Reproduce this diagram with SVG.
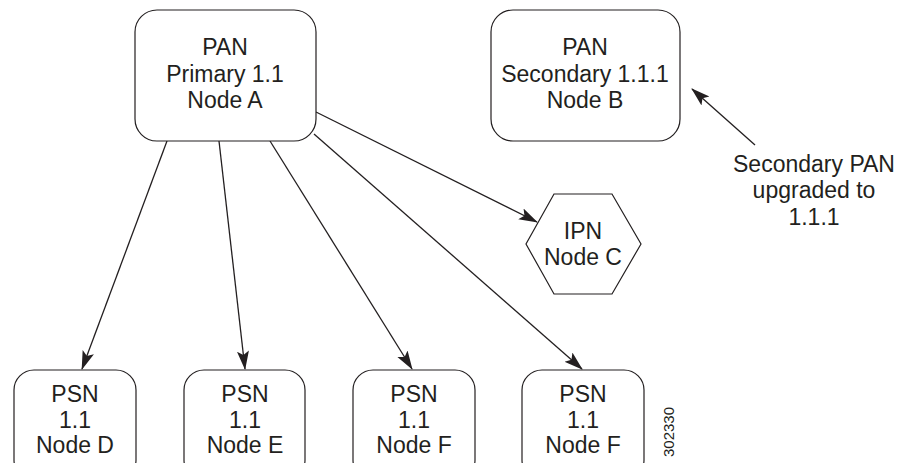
<svg xmlns="http://www.w3.org/2000/svg" width="900" height="463" viewBox="0 0 900 463">
<style>
.box{fill:#fff;stroke:#231f20;stroke-width:1.2}
.t{font-family:"Liberation Sans",Arial,sans-serif;font-size:23px;fill:#231f20;text-anchor:middle}
.edge{stroke:#231f20;stroke-width:1.3;fill:none;marker-end:url(#ah)}
</style>
<defs>
<marker id="ah" markerUnits="userSpaceOnUse" markerWidth="20" markerHeight="14" refX="18" refY="7" orient="auto" viewBox="0 0 20 14">
<path d="M0,1 L19,7 L0,13 L4,7 Z" fill="#231f20"/>
</marker>
</defs>
<rect width="900" height="463" fill="#fff"/>
<g id="connectors">
<line class="edge" x1="167" y1="141" x2="82" y2="369"/>
<line class="edge" x1="219" y1="141" x2="245" y2="369"/>
<line class="edge" x1="270" y1="141" x2="412" y2="369"/>
<line class="edge" x1="314" y1="134" x2="582" y2="369"/>
<line class="edge" x1="316" y1="112" x2="537" y2="222"/>
<line class="edge" x1="755" y1="145" x2="692" y2="89"/>
</g>
<g id="nodeA">
<rect class="box" x="135" y="10" width="181" height="131" rx="22"/>
<text class="t" x="225" y="55">PAN</text>
<text class="t" x="225" y="82">Primary 1.1</text>
<text class="t" x="225" y="108">Node A</text>
</g>
<g id="nodeB">
<rect class="box" x="491" y="10" width="189" height="131" rx="22"/>
<text class="t" x="585" y="55">PAN</text>
<text class="t" x="585" y="82">Secondary 1.1.1</text>
<text class="t" x="585" y="108">Node B</text>
</g>
<g id="note">
<text class="t" x="814" y="172">Secondary PAN</text>
<text class="t" x="814" y="198">upgraded to</text>
<text class="t" x="814" y="225">1.1.1</text>
</g>
<g id="nodeC">
<polygon class="box" points="554,194 612,194 641,244 612,294 554,294 526,244"/>
<text class="t" x="583" y="239">IPN</text>
<text class="t" x="583" y="265">Node C</text>
</g>
<g id="nodeD">
<rect class="box" x="14" y="370" width="122" height="110" rx="20"/>
<text class="t" x="75" y="402">PSN</text>
<text class="t" x="75" y="428">1.1</text>
<text class="t" x="75" y="453">Node D</text>
</g>
<g id="nodeE">
<rect class="box" x="184" y="370" width="121" height="110" rx="20"/>
<text class="t" x="245" y="402">PSN</text>
<text class="t" x="245" y="428">1.1</text>
<text class="t" x="245" y="453">Node E</text>
</g>
<g id="nodeF">
<rect class="box" x="353" y="370" width="122" height="110" rx="20"/>
<text class="t" x="414" y="402">PSN</text>
<text class="t" x="414" y="428">1.1</text>
<text class="t" x="414" y="453">Node F</text>
</g>
<g id="nodeF2">
<rect class="box" x="522" y="370" width="122" height="110" rx="20"/>
<text class="t" x="583" y="402">PSN</text>
<text class="t" x="583" y="428">1.1</text>
<text class="t" x="583" y="453">Node F</text>
</g>
<text x="674" y="432" transform="rotate(-90 674 432)" style="font-family:'Liberation Sans',Arial,sans-serif;font-size:15px;fill:#231f20;text-anchor:middle">302330</text>
</svg>
